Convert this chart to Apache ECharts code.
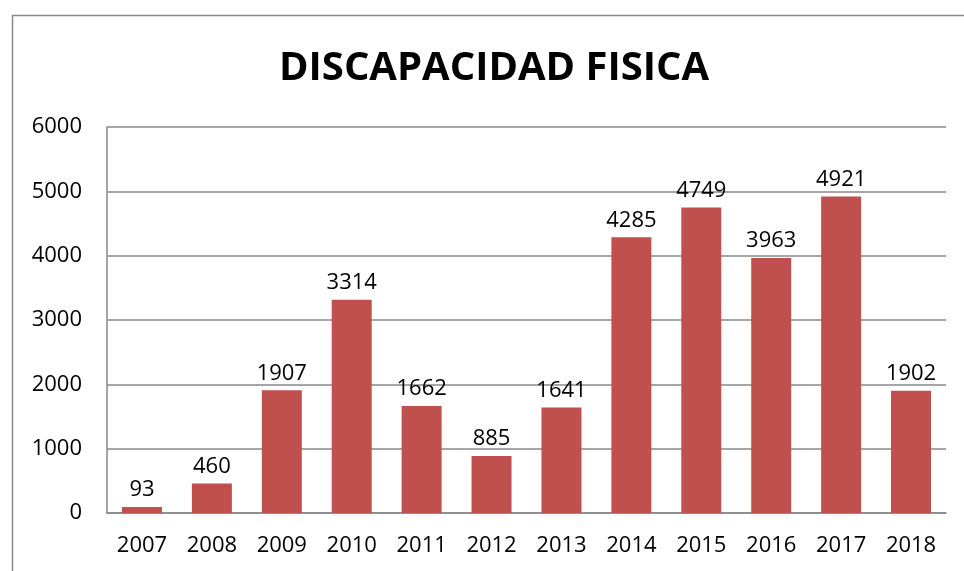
<!DOCTYPE html>
<html>
<head>
<meta charset="utf-8">
<script src="https://cdn.jsdelivr.net/npm/echarts@6/dist/echarts.min.js"></script>
<style>
    html, body { margin: 0; padding: 0; background: #fff; }
    #container { width: 964px; height: 571px; }
</style>
</head>
<body>
<div id="container"></div>
<script>
    var years = ['2007', '2008', '2009', '2010', '2011', '2012', '2013', '2014', '2015', '2016', '2017', '2018'];
    var values = [93, 460, 1907, 3314, 1662, 885, 1641, 4285, 4749, 3963, 4921, 1902];
    var yTicks = [0, 1000, 2000, 3000, 4000, 5000, 6000];

    var myChart = echarts.init(document.getElementById('container'));
    var font = 'Open Sans';

    var option = {
        animation: false,
        title: {
            text: 'DISCAPACIDAD FISICA',
            left: 274,
            top: 44,
            textStyle: { fontFamily: font, fontWeight: 'bold', fontSize: 40, color: '#000' }
        },
        graphic: [{
            type: 'rect',
            shape: { x: 12.5, y: 15.5, width: 1000, height: 600 },
            style: { fill: 'none', stroke: '#8a8a8a', lineWidth: 1.5 },
            silent: true
        }],
        grid: { left: 107, right: 18, top: 127, bottom: 58 },
        xAxis: {
            type: 'category',
            data: years,
            axisLine: { show: true, lineStyle: { color: '#888', width: 1.5 } },
            axisTick: { show: false },
            axisLabel: { fontFamily: font, fontSize: 22, color: '#000', margin: 22 }
        },
        yAxis: {
            type: 'value',
            min: yTicks[0],
            max: yTicks[yTicks.length - 1],
            interval: 1000,
            axisLine: { show: true, lineStyle: { color: '#888', width: 1.5 } },
            axisTick: { show: false },
            splitLine: { show: true, lineStyle: { color: '#888', width: 1.5 } },
            axisLabel: {
                fontFamily: font, fontSize: 22, color: '#000', margin: 25,
                formatter: function (v) { return String(v); }
            }
        },
        series: [{
            type: 'bar',
            data: values,
            barWidth: 40,
            itemStyle: { color: '#C0504D' },
            label: {
                show: true,
                position: 'top',
                distance: 6,
                fontFamily: font,
                fontSize: 22,
                color: '#000'
            }
        }]
    };
    myChart.setOption(option, true);
</script>
</body>
</html>
